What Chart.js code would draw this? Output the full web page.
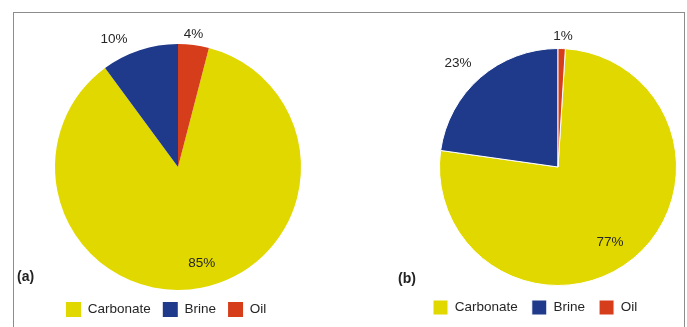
<!DOCTYPE html>
<html>
<head>
<meta charset="utf-8">
<script src="https://cdn.jsdelivr.net/npm/chart.js@4.4.1/dist/chart.umd.min.js"></script>
<style>
    html, body { margin: 0; padding: 0; background: #fff; overflow: hidden; width: 687px; height: 327px; }
    #frame { position: absolute; left: 13px; top: 12px; width: 670px; height: 400px; border: 1px solid #8c8c8c; border-bottom: none; }
    canvas { position: absolute; top: 0; }
    #pieA { left: 0; }
    #pieB { left: 343px; }
</style>
</head>
<body>
<div id="frame"></div>
<canvas id="pieA" width="343" height="327"></canvas>
<canvas id="pieB" width="360" height="327"></canvas>
<script>
// Share of each source (%), two cases
const categories = ["Carbonate", "Brine", "Oil"];
const shareA = [85, 10, 4];
const shareB = [77, 23, 1];

const sliceColors = ["#e1d800", "#1f3a8a", "#d63d1a"];
const textColor = "#262626";
const fontFamily = "'Liberation Sans', Arial, sans-serif";

// per-slice label placement: [radius factor, angle shift in degrees]
const labelPlaceA = [[0.805, -3], [1.163, -8.4], [1.089, -0.6]];
const labelPlaceB = [[0.77, 4.5], [1.218, -2.9], [1.106, 0.4]];

// start so that the Oil slice begins at 12 o'clock
function startAngle(values) {
    const total = values.reduce((a, b) => a + b, 0);
    return values[2] / total * 360;
}

const percentLabels = {
    id: "percentLabels",
    afterDatasetsDraw(chart, args, opts) {
        const ctx = chart.ctx;
        const meta = chart.getDatasetMeta(0);
        const values = chart.data.datasets[0].data;
        ctx.save();
        ctx.font = "13.5px " + fontFamily;
        ctx.fillStyle = textColor;
        ctx.textAlign = "center";
        ctx.textBaseline = "middle";
        meta.data.forEach((arc, i) => {
            const p = arc.getProps(["x", "y", "startAngle", "endAngle", "outerRadius"], true);
            const [f, shift] = opts.place[i];
            const mid = (p.startAngle + p.endAngle) / 2 + shift * Math.PI / 180;
            const r = p.outerRadius * f;
            ctx.fillText(values[i] + "%", p.x + Math.cos(mid) * r, p.y + Math.sin(mid) * r);
        });
        // panel tag
        ctx.font = "bold 14px " + fontFamily;
        ctx.fillStyle = "#222";
        ctx.textAlign = "left";
        ctx.fillText(opts.tag, opts.tagX, opts.tagY);
        ctx.restore();
    }
};

function makePie(id, values, place, tag, tagX, tagY, border, padding, legendPad) {
    return new Chart(document.getElementById(id), {
        type: "pie",
        data: {
            labels: categories,
            datasets: [{
                data: values,
                backgroundColor: sliceColors,
                borderColor: "#fff",
                borderWidth: border,
            }],
        },
        options: {
            responsive: false,
            animation: false,
            rotation: startAngle(values),
            layout: { padding: padding },
            plugins: {
                tooltip: { enabled: false },
                legend: {
                    position: "bottom",
                    align: "start",
                    labels: {
                        boxWidth: 15,
                        boxHeight: 15,
                        padding: legendPad,
                        color: textColor,
                        font: { family: fontFamily, size: 13.5 },
                    },
                },
                percentLabels: { place: place, tag: tag, tagX: tagX, tagY: tagY },
            },
        },
        plugins: [percentLabels],
    });
}

makePie("pieA", shareA, labelPlaceA, "(a)", 17, 277, 0,
    { left: 54, right: 41, top: 44, bottom: 0 }, 12);
makePie("pieB", shareB, labelPlaceB, "(b)", 55, 279, 1,
    { left: 76, right: 6, top: 48, bottom: 2 }, 14);
</script>
</body>
</html>
